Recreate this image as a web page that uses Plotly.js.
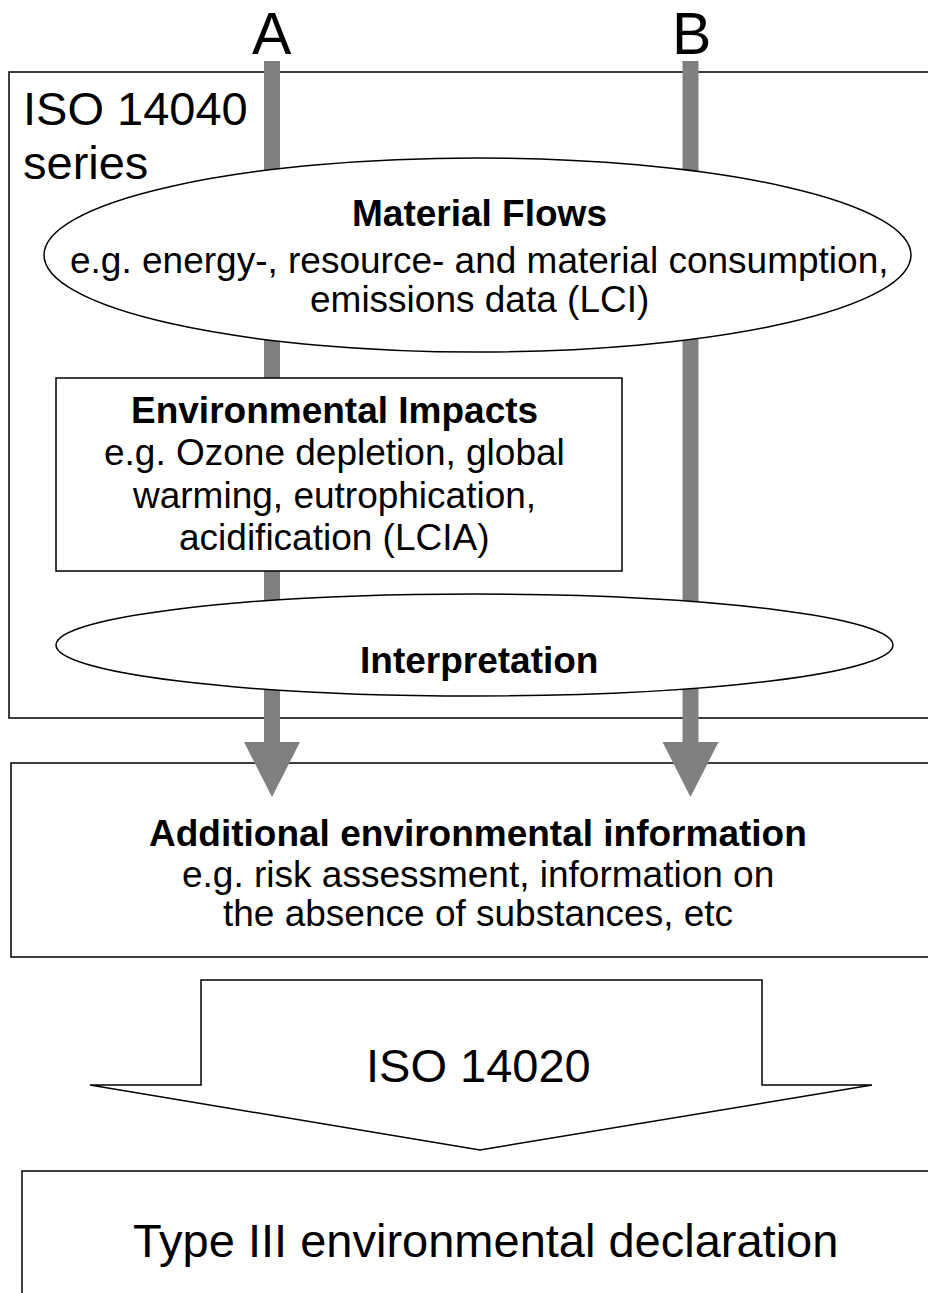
<!DOCTYPE html>
<html>
<head>
<meta charset="utf-8">
<script src="https://cdn.plot.ly/plotly-3.0.1.min.js"></script>
<style>html,body{margin:0;padding:0;background:#fff;}#chart{width:928px;height:1293px;}</style>
</head>
<body>
<div id="chart"></div>
<script>
// ---- content (texts) ----
const pathLabels = ['A', 'B'];
const seriesTitle = ['ISO 14040', 'series'];
const flowTitle = 'Material Flows';
const flowLines = ['e.g. energy-, resource- and material consumption,', 'emissions data (LCI)'];
const impactTitle = 'Environmental Impacts';
const impactLines = ['e.g. Ozone depletion, global', 'warming, eutrophication,', 'acidification (LCIA)'];
const interpTitle = 'Interpretation';
const addTitle = 'Additional environmental information';
const addLines = ['e.g. risk assessment, information on', 'the absence of substances, etc'];
const arrowLabel = 'ISO 14020';
const resultLabel = 'Type III environmental declaration';

// ---- geometry / styles ----
const FONT = 'Liberation Sans, Arial, Helvetica, sans-serif';
const GRAY = '#808080';
const LW = 1.5;
const shaftX = [272, 690.5];
const shaftW = 16;

function txt(text, x, baseline, size, opts) {
  opts = opts || {};
  return {
    text: opts.bold ? '<b>' + text + '</b>' : text,
    x: x, y: baseline - 0.35 * size, xref: 'x', yref: 'y',
    xanchor: opts.anchor || 'center', yanchor: 'middle',
    showarrow: false, borderpad: 0,
    font: {family: FONT, size: size, color: '#000'}
  };
}

const shapes = [];
// outer ISO 14040 box
shapes.push({type: 'rect', xref: 'x', yref: 'y', x0: 9, y0: 72, x1: 940, y1: 718, line: {color: '#000', width: LW}});
// additional info box
shapes.push({type: 'rect', xref: 'x', yref: 'y', x0: 11, y0: 763, x1: 940, y1: 957, line: {color: '#000', width: LW}});
// type III box
shapes.push({type: 'rect', xref: 'x', yref: 'y', x0: 22, y0: 1171, x1: 940, y1: 1310, line: {color: '#000', width: LW}});
// gray shafts + heads
shaftX.forEach(function (cx) {
  shapes.push({type: 'rect', xref: 'x', yref: 'y', x0: cx - shaftW / 2, y0: 61, x1: cx + shaftW / 2, y1: 744, fillcolor: GRAY, line: {width: 0}});
  shapes.push({type: 'path', xref: 'x', yref: 'y',
    path: 'M' + (cx - 28) + ',742 L' + (cx + 28) + ',742 L' + cx + ',797 Z',
    fillcolor: GRAY, line: {width: 0}});
});
// Material flows ellipse
shapes.push({type: 'circle', xref: 'x', yref: 'y', x0: 44, y0: 158, x1: 911, y1: 352, fillcolor: '#fff', line: {color: '#000', width: LW}});
// Environmental impacts box
shapes.push({type: 'rect', xref: 'x', yref: 'y', x0: 56, y0: 378, x1: 622, y1: 571, fillcolor: '#fff', line: {color: '#000', width: LW}});
// Interpretation ellipse
shapes.push({type: 'circle', xref: 'x', yref: 'y', x0: 56, y0: 594, x1: 893, y1: 696, fillcolor: '#fff', line: {color: '#000', width: LW}});
// big block arrow ISO 14020
shapes.push({type: 'path', xref: 'x', yref: 'y',
  path: 'M201,980 L762,980 L762,1085 L872,1085 L480,1150 L90,1085 L201,1085 Z',
  fillcolor: '#fff', line: {color: '#000', width: LW}});

const annotations = [];
annotations.push(txt(pathLabels[0], 272, 55, 59));
annotations.push(txt(pathLabels[1], 691, 55, 59));
annotations.push(txt(seriesTitle[0], 22, 125, 47, {anchor: 'left'}));
annotations.push(txt(seriesTitle[1], 22, 179, 47, {anchor: 'left'}));
annotations.push(txt(flowTitle, 479, 226, 37, {bold: true}));
annotations.push(txt(flowLines[0], 479, 273, 37));
annotations.push(txt(flowLines[1], 479, 312, 37));
annotations.push(txt(impactTitle, 334, 423, 37, {bold: true}));
annotations.push(txt(impactLines[0], 334, 465, 37));
annotations.push(txt(impactLines[1], 334, 508, 37));
annotations.push(txt(impactLines[2], 334, 550, 37));
annotations.push(txt(interpTitle, 479, 673, 37, {bold: true}));
annotations.push(txt(addTitle, 478, 846, 37, {bold: true}));
annotations.push(txt(addLines[0], 478, 887, 37));
annotations.push(txt(addLines[1], 478, 926, 37));
annotations.push(txt(arrowLabel, 478, 1082, 47));
annotations.push(txt(resultLabel, 485, 1257, 47));

const layout = {
  width: 928, height: 1293,
  margin: {l: 0, r: 0, t: 0, b: 0, pad: 0},
  paper_bgcolor: '#fff', plot_bgcolor: '#fff',
  showlegend: false,
  xaxis: {range: [0, 928], visible: false, fixedrange: true},
  yaxis: {range: [1293, 0], visible: false, fixedrange: true},
  shapes: shapes,
  annotations: annotations
};

Plotly.newPlot('chart', [], layout, {staticPlot: true, displayModeBar: false});
</script>
</body>
</html>
